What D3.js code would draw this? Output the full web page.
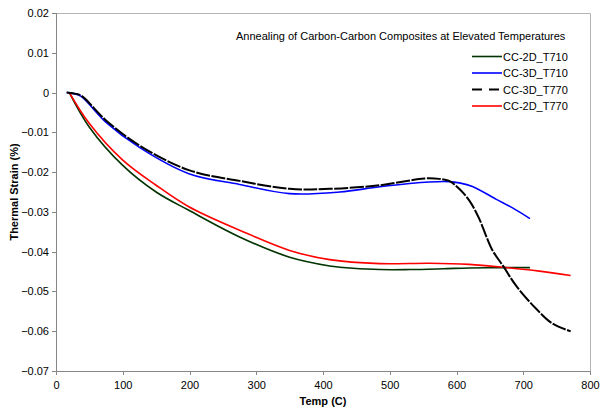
<!DOCTYPE html>
<html><head><meta charset="utf-8">
<script src="https://cdn.jsdelivr.net/npm/d3@7"></script>
<style>body{margin:0;background:#fff}svg{display:block}text{font-family:"Liberation Sans",Arial,sans-serif}</style>
</head><body><svg id="c" width="601" height="408"></svg>
<script>
const xTicks=[0,100,200,300,400,500,600,700,800];
const yTicks=[0.02,0.01,0,-0.01,-0.02,-0.03,-0.04,-0.05,-0.06,-0.07];
const seriesNames=["CC-2D_T710","CC-3D_T710","CC-3D_T770","CC-2D_T770"];
const t2d710=[20,50,100,150,199,275,350,410,425,485,530,580,619,674,710];
const v2d710=[0,-0.0087,-0.0183,-0.025,-0.0296,-0.0363,-0.0414,-0.0436,-0.0439,-0.0445,-0.0445,-0.0443,-0.0441,-0.044,-0.044];
const t3d710=[16,25,37,75,125,199,275,350,425,485,559,589,604,624,659,684,710];
const v3d710=[0,-0.0002,-0.0009,-0.0075,-0.0138,-0.0204,-0.0231,-0.0254,-0.025,-0.0237,-0.0225,-0.0224,-0.0227,-0.0236,-0.0268,-0.029,-0.0317];
const t3d770=[16,25,37,75,125,199,275,350,410,485,552,574,589,604,619,634,644,654,671,689,719,744,771];
const v3d770=[0,-0.0002,-0.0007,-0.007,-0.0133,-0.0195,-0.0222,-0.0242,-0.0242,-0.0233,-0.0216,-0.0217,-0.0222,-0.0242,-0.0271,-0.0317,-0.0359,-0.0397,-0.0439,-0.0485,-0.0543,-0.0581,-0.06];
const t2d770=[20,50,100,150,199,275,350,410,485,560,619,674,724,771];
const v2d770=[0,-0.0078,-0.017,-0.0233,-0.0287,-0.0346,-0.0397,-0.042,-0.043,-0.0429,-0.0432,-0.044,-0.0449,-0.046];
const colors=["#003300","#0000ff","#000000","#ff0000"];

const svg=d3.select("#c");
const L=56,R=590,T=13,B=371;
const x=d3.scaleLinear().domain([0,800]).range([L,R]);
const y=d3.scaleLinear().domain([-0.07,0.02]).range([B,T]);

svg.append("path").attr("d",`M${L},${T+0.5}H${R+0.5}V${B}`).attr("fill","none").attr("stroke","#b4b4b4").attr("stroke-width",1);

const yAxis=svg.append("g").attr("transform",`translate(${L},0)`)
  .call(d3.axisLeft(y).tickValues(yTicks).tickSize(4).tickPadding(3).tickFormat(d=>d===0?"0":d3.format(".2f")(d)));
const xAxis=svg.append("g").attr("transform",`translate(0,${B})`)
  .call(d3.axisBottom(x).tickValues(xTicks).tickSize(4).tickPadding(6).tickFormat(d3.format("d")));
[yAxis,xAxis].forEach(g=>{
  g.select(".domain").attr("stroke","#868686").attr("shape-rendering","crispEdges");
  g.selectAll(".tick line").attr("stroke","#868686").attr("shape-rendering","crispEdges");
  g.selectAll(".tick text").attr("fill","#000").style("font-size","11px").style("font-family","'Liberation Sans',Arial,sans-serif");
});
xAxis.select(".domain").attr("d",`M${L},0.5H${R}`);
yAxis.select(".domain").attr("d",`M0.5,${B}V${T}`);

const data=[[t2d710,v2d710],[t3d710,v3d710],[t3d770,v3d770],[t2d770,v2d770]];
const line=d3.line().x(d=>x(d[0])).y(d=>y(d[1])).curve(d3.curveCatmullRom.alpha(0.5));
[0,3,1,2].forEach(i=>{
  const pts=data[i][0].map((t,k)=>[t,data[i][1][k]]);
  const p=svg.append("path").datum(pts).attr("d",line).attr("fill","none")
    .attr("stroke",colors[i]).attr("stroke-width",i===2?2:1.6).attr("stroke-linejoin","round");
  if(i===2) p.attr("stroke-dasharray","14,1.5");
});

svg.append("text").attr("x",236).attr("y",40).style("font-size","11px").text("Annealing of Carbon-Carbon Composites at Elevated Temperatures");

const lg=svg.append("g");
seriesNames.forEach((n,i)=>{
  const yy=56.5+i*16.5;
  lg.append("line").attr("x1",472).attr("x2",502).attr("y1",yy).attr("y2",yy)
    .attr("stroke",colors[i]).attr("stroke-width",i===2?2:1.6).attr("stroke-dasharray",i===2?"10,7":null);
  lg.append("text").attr("x",503).attr("y",yy+4).style("font-size","11px").text(n);
});

svg.append("text").attr("x",(L+R)/2).attr("y",405).attr("text-anchor","middle").style("font-size","11px").style("font-weight","bold").text("Temp (C)");
svg.append("text").attr("transform",`translate(18,${(T+B)/2}) rotate(-90)`).attr("text-anchor","middle").style("font-size","11px").style("font-weight","bold").text("Thermal Strain (%)");
</script></body></html>
